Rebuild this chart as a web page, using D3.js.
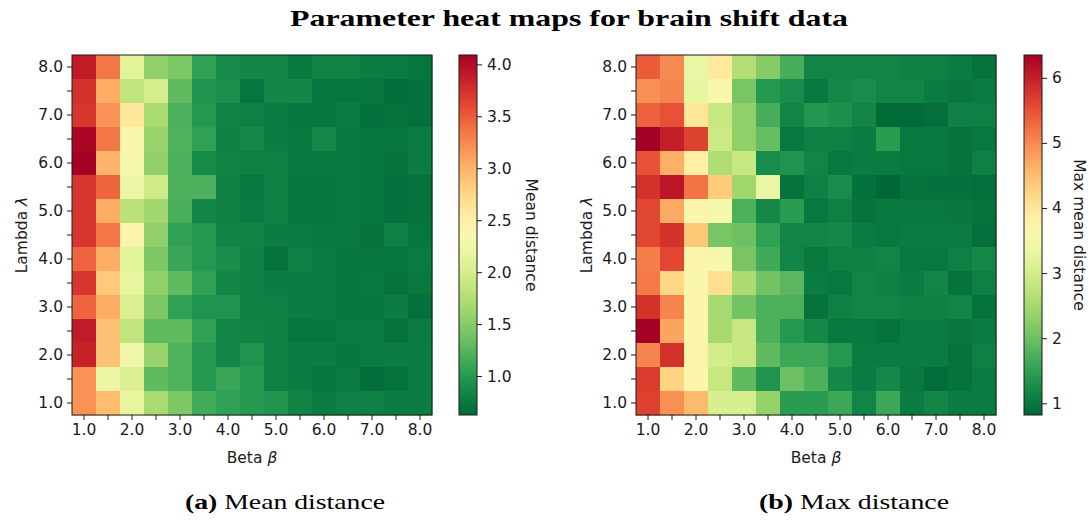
<!DOCTYPE html>
<html>
<head>
<meta charset="utf-8">
<script src="https://cdn.jsdelivr.net/npm/d3@7"></script>
<style>
  html, body { margin: 0; padding: 0; background: #fff; }
  svg { display: block; }
</style>
</head>
<body>
<svg id="chart" width="1091" height="520"></svg>
<script>
// ---------- data ----------
const betas = [1.0, 1.5, 2.0, 2.5, 3.0, 3.5, 4.0, 4.5, 5.0, 5.5, 6.0, 6.5, 7.0, 7.5, 8.0];
// rows listed top to bottom (lambda 8.0 down to 1.0)
const lambdaRows = [8.0, 7.5, 7.0, 6.5, 6.0, 5.5, 5.0, 4.5, 4.0, 3.5, 3.0, 2.5, 2.0, 1.5, 1.0];
const xTickLabels = ["1.0", "2.0", "3.0", "4.0", "5.0", "6.0", "7.0", "8.0"];
const yTickLabels = ["1.0", "2.0", "3.0", "4.0", "5.0", "6.0", "7.0", "8.0"];

const meanDistance = [
  [3.90, 3.35, 2.10, 1.55, 1.45, 1.05, 0.88, 0.85, 0.85, 0.75, 0.82, 0.82, 0.78, 0.76, 0.72],
  [3.75, 3.05, 1.85, 2.00, 1.30, 0.95, 0.92, 0.72, 0.85, 0.85, 0.72, 0.72, 0.72, 0.66, 0.68],
  [3.72, 3.20, 2.60, 1.70, 1.20, 0.98, 0.82, 0.80, 0.78, 0.72, 0.72, 0.78, 0.68, 0.70, 0.68],
  [4.05, 3.35, 2.40, 1.60, 1.22, 1.05, 0.80, 0.86, 0.78, 0.74, 0.86, 0.74, 0.72, 0.72, 0.76],
  [4.09, 3.00, 2.35, 1.55, 1.20, 0.88, 0.82, 0.80, 0.80, 0.74, 0.74, 0.74, 0.72, 0.70, 0.76],
  [3.72, 3.45, 2.20, 1.95, 1.20, 1.20, 0.80, 0.74, 0.80, 0.72, 0.72, 0.74, 0.72, 0.68, 0.70],
  [3.72, 3.05, 1.80, 1.65, 1.18, 0.85, 0.80, 0.76, 0.80, 0.72, 0.72, 0.74, 0.72, 0.68, 0.70],
  [3.72, 3.35, 2.45, 1.55, 1.05, 0.98, 0.82, 0.82, 0.76, 0.76, 0.74, 0.74, 0.70, 0.80, 0.72],
  [3.45, 3.05, 2.10, 1.45, 1.10, 0.98, 0.90, 0.80, 0.70, 0.80, 0.78, 0.72, 0.72, 0.72, 0.76],
  [3.72, 2.85, 2.15, 1.55, 1.30, 1.05, 0.85, 0.80, 0.78, 0.78, 0.78, 0.72, 0.74, 0.70, 0.74],
  [3.45, 3.05, 2.05, 1.45, 1.05, 0.95, 0.95, 0.80, 0.80, 0.78, 0.76, 0.72, 0.72, 0.76, 0.68],
  [3.90, 2.90, 1.85, 1.30, 1.30, 1.05, 0.85, 0.82, 0.80, 0.72, 0.72, 0.76, 0.76, 0.70, 0.76],
  [3.85, 2.90, 2.25, 1.60, 1.22, 0.98, 0.85, 0.95, 0.80, 0.78, 0.78, 0.72, 0.76, 0.76, 0.78],
  [3.20, 2.20, 2.05, 1.30, 1.22, 0.98, 1.10, 1.00, 0.80, 0.78, 0.72, 0.76, 0.66, 0.70, 0.78],
  [3.20, 2.95, 2.15, 1.70, 1.45, 1.15, 1.05, 1.00, 0.95, 0.82, 0.76, 0.80, 0.80, 0.78, 0.78]
];

const maxDistance = [
  [5.40, 5.00, 3.30, 3.95, 2.65, 2.20, 1.70, 1.15, 1.15, 1.15, 1.15, 1.10, 1.10, 1.05, 0.95],
  [4.95, 5.05, 3.25, 3.60, 2.10, 1.40, 1.25, 1.00, 1.20, 1.25, 1.15, 1.15, 1.05, 0.98, 1.05],
  [5.35, 5.50, 4.00, 2.85, 2.30, 1.70, 1.15, 1.38, 1.30, 1.15, 0.85, 0.85, 0.90, 1.10, 1.10],
  [6.35, 6.00, 5.65, 2.90, 2.30, 1.95, 1.00, 1.10, 1.10, 1.05, 1.45, 1.00, 1.00, 0.95, 1.00],
  [5.50, 4.65, 3.85, 2.60, 2.85, 1.25, 1.35, 1.15, 1.00, 1.05, 1.05, 1.00, 1.00, 0.95, 1.10],
  [5.80, 6.10, 5.20, 4.35, 2.45, 3.30, 0.95, 1.10, 1.25, 0.92, 0.82, 0.95, 0.92, 0.92, 0.90],
  [5.60, 4.70, 3.70, 3.45, 1.75, 1.20, 1.45, 1.00, 1.10, 0.95, 1.00, 1.00, 1.00, 0.98, 0.95],
  [5.60, 5.80, 4.40, 2.10, 2.00, 1.50, 1.15, 1.15, 1.20, 1.05, 1.00, 1.05, 1.05, 1.05, 0.90],
  [5.10, 5.60, 3.70, 3.50, 2.10, 1.65, 1.15, 1.00, 1.10, 1.10, 1.15, 1.00, 1.00, 1.10, 1.20],
  [5.15, 4.20, 3.65, 4.10, 2.55, 2.05, 1.85, 1.05, 1.00, 1.15, 1.10, 1.05, 1.15, 0.95, 1.10],
  [5.80, 5.05, 3.70, 2.50, 2.05, 1.75, 1.75, 0.95, 1.10, 1.15, 1.15, 1.10, 1.10, 1.15, 0.95],
  [6.35, 4.75, 3.70, 2.50, 2.85, 1.75, 1.40, 1.20, 1.00, 1.00, 0.95, 1.05, 1.05, 0.98, 1.05],
  [5.05, 5.80, 3.75, 3.00, 2.85, 1.90, 1.60, 1.60, 1.40, 1.05, 1.05, 1.05, 1.05, 0.95, 1.10],
  [5.70, 4.25, 3.70, 2.85, 1.90, 1.35, 2.00, 1.75, 1.20, 1.05, 1.20, 1.00, 0.88, 0.95, 1.05],
  [5.65, 4.95, 4.55, 3.05, 3.05, 2.35, 1.45, 1.45, 1.60, 1.15, 1.60, 1.05, 1.15, 1.05, 1.05]
];

const meanColorDomain = [0.625, 4.09];
const maxColorDomain = [0.82, 6.35];
const meanCbTicks = [1.0, 1.5, 2.0, 2.5, 3.0, 3.5, 4.0];
const maxCbTicks = [1, 2, 3, 4, 5, 6];

const title = "Parameter heat maps for brain shift data";
const panels = [
  { values: meanDistance, domain: meanColorDomain, cbTicks: meanCbTicks, cbFormat: ".1f",
    cbLabel: "Mean distance", capTag: "(a)", capText: " Mean distance",
    x0: 72, cbX: 459, cbLabelX: 531, yLabelX: 22, capX: 285, capW: 200 },
  { values: maxDistance, domain: maxColorDomain, cbTicks: maxCbTicks, cbFormat: "d",
    cbLabel: "Max mean distance", capTag: "(b)", capText: " Max distance",
    x0: 636, cbX: 1024, cbLabelX: 1079, yLabelX: 587, capX: 854, capW: 190 }
];

// ---------- drawing ----------
const svg = d3.select("#chart");
const topY = 55, size = 360, cbW = 18;
const tickFont = "DejaVu Sans, sans-serif";
const fs = 15.5;
const ink = "#1a1a1a";
const cmap = t => d3.interpolateRdYlGn(1 - t);

svg.append("text")
  .attr("x", 569).attr("y", 26)
  .attr("text-anchor", "middle")
  .attr("font-family", "Liberation Serif, DejaVu Serif, serif")
  .attr("font-weight", "bold")
  .attr("font-size", 23)
  .attr("textLength", 558).attr("lengthAdjust", "spacingAndGlyphs")
  .attr("fill", "#000")
  .text(title);

const defs = svg.append("defs");

panels.forEach((p, pi) => {
  const g = svg.append("g");
  const x = d3.scaleBand().domain(betas).range([p.x0, p.x0 + size]);
  const y = d3.scaleBand().domain(lambdaRows).range([topY, topY + size]);
  const color = d3.scaleSequential(cmap).domain(p.domain);

  const cells = [];
  p.values.forEach((row, ri) => row.forEach((v, ci) => cells.push({ b: betas[ci], l: lambdaRows[ri], v })));

  g.selectAll("rect.cell").data(cells).join("rect")
    .attr("class", "cell")
    .attr("x", d => x(d.b)).attr("y", d => y(d.l))
    .attr("width", x.bandwidth() + 0.4).attr("height", y.bandwidth() + 0.4)
    .attr("fill", d => color(d.v));

  g.append("rect")
    .attr("x", p.x0).attr("y", topY).attr("width", size).attr("height", size)
    .attr("fill", "none").attr("stroke", ink).attr("stroke-width", 1);

  const fmtTick = d => Number.isInteger(d) ? d.toFixed(1) : "";

  const xAxis = g.append("g")
    .attr("transform", `translate(0,${topY + size})`)
    .call(d3.axisBottom(x).tickSize(5).tickPadding(4).tickFormat(fmtTick));
  const yAxis = g.append("g")
    .attr("transform", `translate(${p.x0},0)`)
    .call(d3.axisLeft(y).tickSize(5).tickPadding(4).tickFormat(fmtTick));
  [xAxis, yAxis].forEach(a => {
    a.select(".domain").remove();
    a.selectAll("line").attr("stroke", ink).attr("stroke-width", 1);
    a.selectAll("text").attr("font-family", tickFont).attr("font-size", fs).attr("fill", ink);
  });

  g.append("text")
    .attr("x", p.x0 + size / 2).attr("y", 463)
    .attr("text-anchor", "middle")
    .attr("font-family", tickFont).attr("font-size", fs).attr("fill", ink)
    .call(t => {
      t.append("tspan").text("Beta ");
      t.append("tspan").attr("font-style", "italic").text("β");
    });

  g.append("text")
    .attr("transform", `translate(${p.yLabelX},${topY + size / 2}) rotate(-90)`)
    .attr("text-anchor", "middle").attr("dominant-baseline", "central")
    .attr("font-family", tickFont).attr("font-size", fs).attr("fill", ink)
    .call(t => {
      t.append("tspan").text("Lambda ");
      t.append("tspan").attr("font-style", "italic").text("λ");
    });

  // colorbar
  const gradId = "grad" + pi;
  const grad = defs.append("linearGradient")
    .attr("id", gradId).attr("x1", 0).attr("y1", 1).attr("x2", 0).attr("y2", 0);
  d3.range(0, 1.0001, 0.05).forEach(t => {
    grad.append("stop").attr("offset", t).attr("stop-color", cmap(t));
  });
  const cy = d3.scaleLinear().domain(p.domain).range([topY + size, topY]);
  g.append("rect")
    .attr("x", p.cbX).attr("y", topY).attr("width", cbW).attr("height", size)
    .attr("fill", `url(#${gradId})`)
    .attr("stroke", ink).attr("stroke-width", 1);
  const cAxis = g.append("g")
    .attr("transform", `translate(${p.cbX + cbW},0)`)
    .call(d3.axisRight(cy).tickValues(p.cbTicks).tickSize(5).tickPadding(5).tickFormat(d3.format(p.cbFormat)));
  cAxis.select(".domain").remove();
  cAxis.selectAll("line").attr("stroke", ink).attr("stroke-width", 1);
  cAxis.selectAll("text").attr("font-family", tickFont).attr("font-size", fs).attr("fill", ink);

  g.append("text")
    .attr("transform", `translate(${p.cbLabelX},${topY + size / 2}) rotate(90)`)
    .attr("text-anchor", "middle").attr("dominant-baseline", "central")
    .attr("font-family", tickFont).attr("font-size", fs).attr("fill", ink)
    .text(p.cbLabel);

  // caption
  g.append("text")
    .attr("x", p.capX).attr("y", 509)
    .attr("text-anchor", "middle")
    .attr("font-family", "Liberation Serif, DejaVu Serif, serif")
    .attr("font-size", 21).attr("fill", "#000")
    .attr("textLength", p.capW).attr("lengthAdjust", "spacingAndGlyphs")
    .call(t => {
      t.append("tspan").attr("font-weight", "bold").text(p.capTag);
      t.append("tspan").text(p.capText);
    });
});
</script>
</body>
</html>
